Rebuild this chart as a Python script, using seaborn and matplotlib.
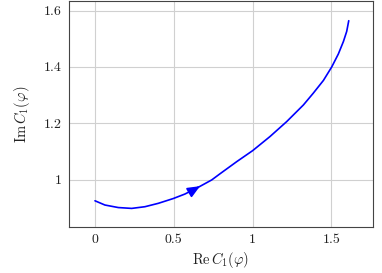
import matplotlib
matplotlib.use("Agg")
import matplotlib.pyplot as plt
import seaborn as sns
import pandas as pd

re_vals = [0.0, 0.063, 0.148, 0.233, 0.317, 0.402, 0.497, 0.571, 0.656, 0.741,
           0.794, 0.9, 1.001, 1.111, 1.217, 1.323, 1.386, 1.450, 1.503, 1.545,
           1.577, 1.598, 1.611]
im_vals = [0.925, 0.910, 0.901, 0.898, 0.904, 0.916, 0.933, 0.949, 0.973, 0.999,
           1.021, 1.064, 1.103, 1.153, 1.206, 1.265, 1.307, 1.352, 1.400, 1.446,
           1.490, 1.526, 1.564]
x_ticks = [0, 0.5, 1, 1.5]
x_tick_labels = ["0", "0.5", "1", "1.5"]
y_ticks = [1.0, 1.2, 1.4, 1.6]
y_tick_labels = ["1", "1.2", "1.4", "1.6"]
arrow_from = (0.60, 0.955)
arrow_to = (0.667, 0.977)

sns.set_style("whitegrid")
plt.rcParams["font.family"] = ["cmr10", "DejaVu Serif"]
plt.rcParams["mathtext.fontset"] = "cm"
plt.rcParams["axes.formatter.use_mathtext"] = True

fig = plt.figure(figsize=(3.82, 2.73), dpi=100)
ax = fig.add_axes([69/382, 1-227/273, (373-69)/382, (227-1)/273])

df = pd.DataFrame({"re": re_vals, "im": im_vals})
sns.lineplot(data=df, x="re", y="im", sort=False, color="#0000ff", lw=1.2, ax=ax)

ax.annotate("", xy=arrow_to, xytext=arrow_from,
            arrowprops=dict(arrowstyle="-|>,head_length=0.75,head_width=0.32",
                            color="#0000ff", lw=1.2, shrinkA=0, shrinkB=0))

ax.set_xlim(-0.165, 1.765)
ax.set_ylim(0.832, 1.634)
ax.set_xticks(x_ticks)
ax.set_xticklabels(x_tick_labels)
ax.set_yticks(y_ticks)
ax.set_yticklabels(y_tick_labels)
ax.grid(True, color="#d0d0d0", lw=0.8)
for s in ax.spines.values():
    s.set_color("#444444")
    s.set_linewidth(0.8)
ax.tick_params(axis="both", labelsize=10, length=0, pad=5, colors="#222222")
ax.set_xlabel(r"$\mathrm{Re}\,C_1(\varphi)$", fontsize=10.5, labelpad=3, color="#222222")
ax.set_ylabel(r"$\mathrm{Im}\,C_1(\varphi)$", fontsize=10.5, labelpad=9, color="#222222")

fig.savefig("out.png", dpi=100)
